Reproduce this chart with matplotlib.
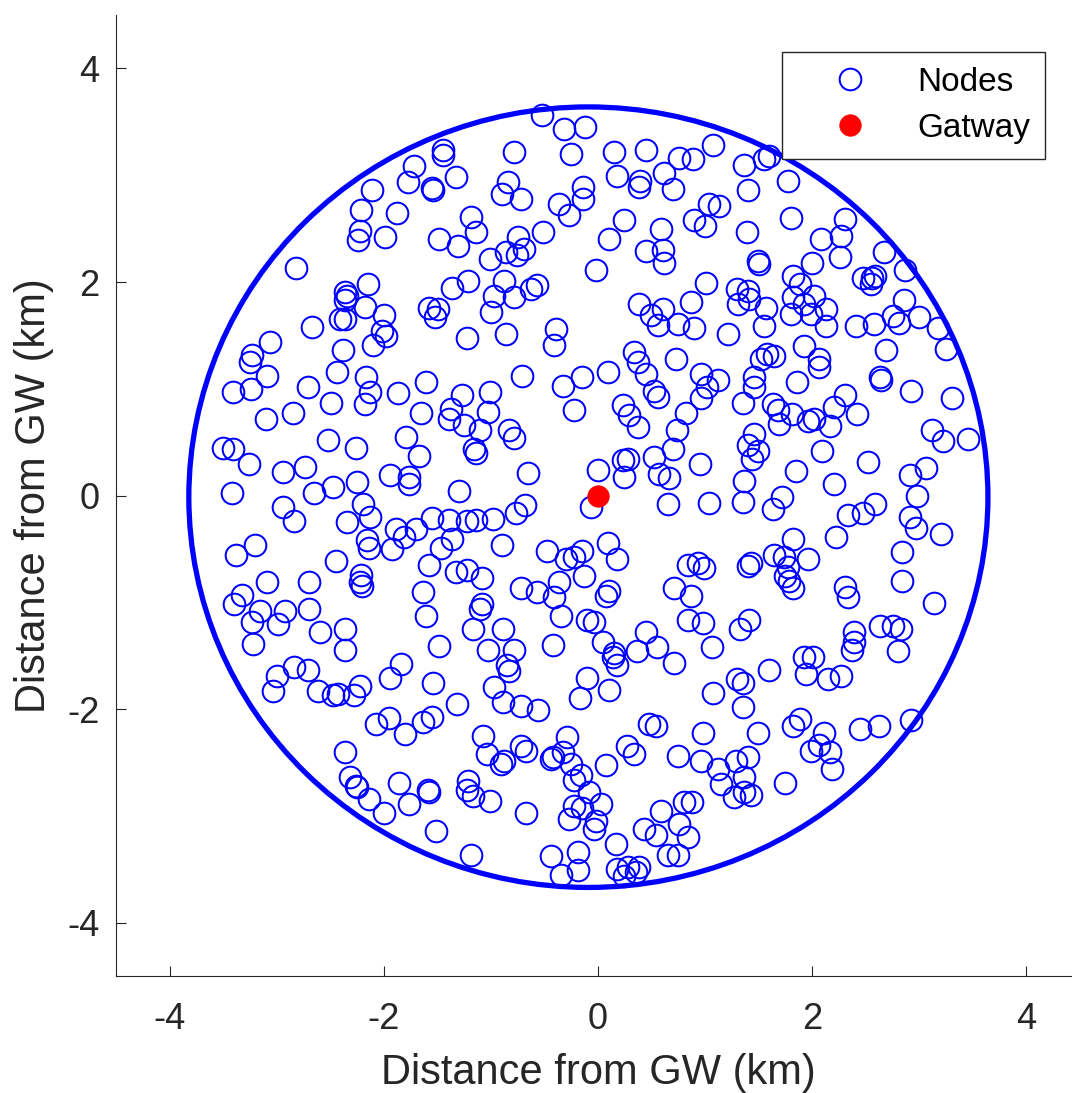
import matplotlib
matplotlib.use("Agg")
import matplotlib.pyplot as plt
import matplotlib.patches as patches

plt.rcParams["font.family"] = ["Liberation Sans", "DejaVu Sans"]
plt.rcParams["axes.unicode_minus"] = False

# Node positions (km from gateway)
node_x = [
    -1.45, -1.45, -1.72, -1.77, -1.55, -1.54, -1.33, -2.11, -2.21, -1.88, -2.22, -2.24, -1.99, -1.48, -1.31,
    -2.82, -2.15, -2.36, -2.34, -2.36, -2.18, -2.00, -2.41, -2.36, -2.67, -2.02, -1.98, -2.10, -3.06, -2.38,
    -1.36, -1.58, -1.49, -1.52, -3.23, -3.25,
    -0.52, -0.32, -0.12, -0.78, -0.25, 0.15, 0.45, 0.76, 0.89, 1.07,
    -0.84, -0.90, -0.72, -0.36, -0.27, -0.14, -0.14, 0.18, 0.39, 0.38, 0.62, 0.70, 1.04, 1.13, 0.90, 1.00,
    0.24, 0.10, 0.59, 0.45, 0.61, 0.62, -0.02,
    -1.19, -1.14, -1.01, -0.86, -0.75, -0.76, -0.69, -0.51, -1.21, -0.88, -0.97, -0.78, -1.00, -0.63, -0.57,
    -1.22, -0.86, -0.39, -0.41,
    0.38, 0.49, 0.61, 0.56, 0.75, 0.87, 0.90, 1.01, 1.21, 0.34, 0.73,
    1.36, 1.55, 1.60, 1.77, 1.40, 1.80, 1.39, 2.31, 2.27, 2.08, 2.26, 2.00, 2.67, 2.87, 1.49, 1.50, 2.47, 2.56,
    2.59, 2.55, 1.82, 1.89, 1.30, 1.40, 1.41, 1.31, 1.57, 1.55, 1.82, 1.92, 2.02, 2.13, 1.80, 1.99, 2.13, 2.86,
    2.75, 2.81, 3.00, 2.41, 2.58, 3.17, 3.25, 2.69, 1.92, 2.06, 1.58, 1.64, 1.52,
    -3.09, -3.41, -3.24, -2.71, -2.44, -2.17, -2.13, -2.18, -2.49, -1.87, -1.61, -1.65, -1.37, -1.39, -3.10,
    -2.85, -2.52, -2.26, -1.79, -1.67, -3.50, -3.41, -3.26, -2.94, -2.74, -2.65, -2.47, -2.25, -1.94, -1.76,
    -1.76, -3.42, -2.94, -2.84, -2.34, -2.19, -2.13, -2.16, -2.14, -1.89, -1.81, -1.92, -1.70, -1.55, -1.39,
    -1.47, -1.36, -3.20, -3.38, -2.45, -2.21, -2.22, -2.20, -1.58, -1.63, -1.61, -3.32, -3.40, -3.09, -2.70,
    -3.16, -3.23, -2.92, -2.99, -2.70, -2.60, -2.36,
    -0.71, -0.33, -0.15, 0.09, 0.37, 0.45, 0.52, 0.56, 0.96, 1.02, 1.12, 0.96,
    -1.27, -1.01, -1.03, -1.25, -1.10, -1.16, -1.14, -0.83, -0.78, -0.22, 0.23, 0.29, 0.37, 0.82, 0.74, 0.70,
    -0.65, 0.00, 0.23, 0.28, 0.24, 0.52, 0.57, 0.66, 0.95, 0.65, 1.04, -0.07,
    -1.30, -1.22, -1.14, -0.98, -0.77, -0.68, -0.90, -0.48, -0.30, -0.22, -0.15, -0.13, 0.09, 0.18, 0.84,
    0.93, 0.99, 0.71, 0.87,
    -1.22, -1.08, -1.33, -0.72, -0.57, -0.36, -0.41, 0.10, 0.07, -1.08, -1.10, -0.35, -0.10, -0.04, -1.17,
    -0.89, 0.45, 0.84, 0.98,
    1.46, 1.46, 1.35, 1.63, 1.68, 1.86, 2.06, 2.63, 2.64, 2.92, 3.30, 1.81, 1.69, 1.96, 2.02, 2.17, 2.20, 2.31,
    2.42, 3.12, 3.22, 3.45, 1.46, 1.40, 1.49, 1.44, 2.09, 2.52, 1.85, 2.91, 3.06, 2.98, 1.36, 1.35, 1.72, 1.63,
    2.20, 2.33, 2.47, 2.59, 2.91, 2.97, 3.20, 2.22, 1.82, 1.64, 1.74, 1.96, 1.40, 1.43, 1.77, 1.75, 1.78, 1.82,
    2.84, 2.84, 2.31, 2.33, 3.14, 1.41, 1.33, 2.39, 2.63, 2.75, 2.83,
    -3.22, -2.36, -1.48, -3.00, -3.03, -2.84, -2.71, -2.61, -2.47, -2.43, -2.28, -2.22, -1.94, -1.84, -1.54,
    -1.32, -2.07, -1.95, -1.80, -1.63, -1.55, -2.36, -2.32, -2.26, -2.25, -2.14, -2.00, -1.86, -1.76, -1.59,
    -1.58, -1.51,
    -1.03, -0.78, -0.85, -0.83, -0.97, -0.89, -0.72, -0.56, -0.42, 0.05, 0.15, 0.18, 0.14, 0.36, 0.55, 0.71,
    1.06, 1.07, -0.10, -0.17, 0.10, 0.98, 0.48, 0.54,
    -1.07, -1.04, -0.91, -0.88, -0.72, -0.67, -0.44, -0.42, -0.29, -0.33, -0.25, -0.16, -0.22, 0.07, 0.27,
    0.34, 0.75, 0.96, 1.12, 1.15,
    -1.21, -1.22, -1.17, -1.01, -0.67, -0.08, 0.03, -0.22, -0.15, -0.27, -0.02, -0.04, 0.59, 0.80, 0.88, 0.43,
    0.54, 0.76, 0.84, 0.17, 0.65, 0.75, -1.19, -0.44, -0.19, -0.35, -0.19, 0.18, 0.28, 0.38, 0.35, 0.24,
    2.39, 2.37, 2.80, 1.92, 2.01, 1.94, 2.15, 2.27, 1.60, 1.30, 1.35, 1.35, 1.89, 1.82, 2.11, 2.06, 1.99, 2.17,
    2.18, 1.49, 2.45, 2.62, 2.92, 1.40, 1.29, 1.36, 1.36, 1.43, 1.75, 1.27,
]
node_y = [
    3.24, 3.19, 3.09, 2.94, 2.88, 2.86, 2.98, 2.86, 2.67, 2.65, 2.48, 2.39, 2.42, 2.40, 2.34,
    2.13, 1.98, 1.91, 1.87, 1.83, 1.77, 1.69, 1.65, 1.65, 1.58, 1.54, 1.49, 1.41, 1.44, 1.36,
    1.94, 1.76, 1.75, 1.67, 1.32, 1.25,
    3.56, 3.43, 3.45, 3.22, 3.20, 3.22, 3.24, 3.16, 3.15, 3.28,
    2.94, 2.82, 2.78, 2.73, 2.63, 2.89, 2.78, 2.99, 2.95, 2.89, 3.02, 2.87, 2.73, 2.71, 2.58, 2.52,
    2.58, 2.40, 2.50, 2.29, 2.30, 2.18, 2.11,
    2.61, 2.47, 2.22, 2.28, 2.42, 2.25, 2.31, 2.47, 2.01, 2.01, 1.87, 1.86, 1.72, 1.93, 1.97,
    1.48, 1.51, 1.56, 1.41,
    1.79, 1.69, 1.75, 1.60, 1.61, 1.81, 1.57, 1.99, 1.51, 1.34, 1.28,
    3.10, 3.15, 3.18, 2.95, 2.86, 2.60, 2.47, 2.59, 2.43, 2.40, 2.23, 2.18, 2.28, 2.11, 2.20, 2.17, 2.04, 2.04,
    2.06, 1.98, 2.06, 1.98, 1.93, 1.92, 1.84, 1.79, 1.76, 1.59, 1.86, 1.79, 1.87, 1.75, 1.70, 1.70, 1.59, 1.83,
    1.68, 1.62, 1.67, 1.59, 1.61, 1.57, 1.37, 1.36, 1.40, 1.28, 1.33, 1.31, 1.28,
    1.12, 0.97, 1.00, 1.02, 1.16, 1.11, 0.97, 0.86, 0.87, 0.96, 1.06, 0.77, 0.81, 0.72, 0.72,
    0.77, 0.52, 0.45, 0.55, 0.37, 0.45, 0.44, 0.30, 0.22, 0.27, 0.02, 0.08, 0.13, 0.19, 0.17,
    0.11, 0.02, -0.11, -0.24, -0.25, -0.08, -0.20, -0.42, -0.49, -0.31, -0.39, -0.50, -0.31, -0.21, -0.23,
    -0.49, -0.41, -0.46, -0.56, -0.61, -0.74, -0.81, -0.85, -0.65, -0.90, -1.13, -0.93, -1.02, -0.81, -0.81,
    -1.08, -1.18, -1.08, -1.20, -1.06, -1.28, -1.25,
    1.12, 1.03, 1.11, 1.16, 1.25, 1.14, 0.98, 0.92, 1.14, 1.02, 1.08, 0.91,
    0.94, 0.97, 0.78, 0.66, 0.61, 0.44, 0.40, 0.61, 0.54, 0.80, 0.85, 0.75, 0.64, 0.77, 0.61, 0.44,
    0.21, 0.24, 0.33, 0.34, 0.17, 0.36, 0.20, 0.16, 0.30, -0.08, -0.07, -0.11,
    0.04, -0.24, -0.23, -0.22, -0.16, -0.09, -0.46, -0.52, -0.59, -0.58, -0.52, -0.75, -0.44, -0.59, -0.65,
    -0.63, -0.68, -0.87, -0.94,
    -0.70, -0.77, -0.72, -0.87, -0.90, -0.81, -0.95, -0.89, -0.94, -1.02, -1.06, -1.13, -1.17, -1.18, -1.25,
    -1.25, -1.28, -1.17, -1.19,
    1.11, 1.02, 0.87, 0.86, 0.80, 1.06, 1.20, 1.11, 1.08, 0.98, 0.91, 0.76, 0.67, 0.70, 0.72, 0.65, 0.83, 0.94,
    0.76, 0.61, 0.51, 0.53, 0.58, 0.47, 0.42, 0.34, 0.42, 0.31, 0.23, 0.19, 0.26, 0.00, 0.14, -0.06, -0.01, -0.13,
    0.11, -0.18, -0.16, -0.08, -0.20, -0.30, -0.36, -0.39, -0.41, -0.56, -0.58, -0.59, -0.66, -0.63, -0.67, -0.75, -0.80, -0.87,
    -0.53, -0.80, -0.86, -0.95, -1.01, -1.17, -1.25, -1.28, -1.22, -1.22, -1.25,
    -1.39, -1.45, -1.41, -1.69, -1.83, -1.61, -1.63, -1.83, -1.87, -1.86, -1.87, -1.78, -1.71, -1.58, -1.76,
    -1.95, -2.14, -2.08, -2.23, -2.12, -2.07, -2.40, -2.64, -2.72, -2.73, -2.84, -2.97, -2.69, -2.89, -2.76,
    -2.78, -3.14,
    -1.45, -1.45, -1.59, -1.64, -1.79, -1.93, -1.97, -2.01, -1.40, -1.37, -1.47, -1.59, -1.51, -1.46, -1.42, -1.57,
    -1.42, -1.85, -1.71, -1.90, -1.82, -2.22, -2.14, -2.16,
    -2.25, -2.42, -2.51, -2.49, -2.35, -2.39, -2.47, -2.45, -2.26, -2.40, -2.51, -2.62, -2.66, -2.52, -2.35,
    -2.42, -2.44, -2.49, -2.56, -2.70,
    -2.67, -2.76, -2.81, -2.86, -2.97, -2.78, -2.89, -2.91, -2.93, -3.03, -3.05, -3.12, -2.95, -2.87, -2.87, -3.12,
    -3.18, -3.08, -3.20, -3.26, -3.37, -3.37, -3.37, -3.38, -3.34, -3.55, -3.51, -3.50, -3.48, -3.48, -3.53, -3.56,
    -1.37, -1.45, -1.46, -1.51, -1.51, -1.67, -1.72, -1.69, -1.63, -1.72, -1.76, -1.98, -2.09, -2.16, -2.22, -2.34, -2.39, -2.40,
    -2.56, -2.22, -2.19, -2.16, -2.10, -2.45, -2.49, -2.64, -2.78, -2.80, -2.69, -2.82,
]

gateway_x = [0.0]
gateway_y = [0.0]

# coverage boundary drawn round the nodes (slightly wider than tall in the picture)
boundary_center = (-0.09, -0.015)
boundary_width = 7.46
boundary_height = 7.31

fig = plt.figure(figsize=(10.72, 10.93), dpi=100)
ax = fig.add_axes([0.1082, 0.1070, 0.8993, 0.8792])

ring = patches.Ellipse(boundary_center, boundary_width, boundary_height,
                       fill=False, edgecolor=(0, 0, 1), linewidth=3.8, zorder=2)
ax.add_patch(ring)

ax.plot(node_x, node_y, linestyle='none', marker='o', markersize=15.6,
        markerfacecolor='none', markeredgecolor=(0, 0, 1), markeredgewidth=1.45,
        label='Nodes', zorder=3)
ax.plot(gateway_x, gateway_y, linestyle='none', marker='o', markersize=15.5,
        markerfacecolor=(1, 0, 0), markeredgecolor=(1, 0, 0), markeredgewidth=0.5,
        label='Gatway', zorder=4)

ax.set_xlim(-4.5, 4.5)
ax.set_ylim(-4.5, 4.5)
ax.set_xticks([-4, -2, 0, 2, 4])
ax.set_yticks([-4, -2, 0, 2, 4])

dark = '#262626'
for side in ['top', 'right']:
    ax.spines[side].set_visible(False)
for side in ['left', 'bottom']:
    ax.spines[side].set_color(dark)
    ax.spines[side].set_linewidth(0.8)
ax.tick_params(direction='in', length=7, width=0.8, colors=dark, labelsize=26)
ax.tick_params(axis='x', pad=19)
ax.tick_params(axis='y', pad=12)

ax.set_xlabel('Distance from GW (km)', fontsize=30, color=dark, labelpad=11)
ax.set_ylabel('Distance from GW (km)', fontsize=30, color=dark, labelpad=9)

leg = ax.legend(loc='upper left', bbox_to_anchor=(782 / 1072, 1 - 52 / 1093),
                bbox_transform=fig.transFigure, borderaxespad=0, fontsize=24,
                handlelength=3.2, handletextpad=0.4, borderpad=0.45,
                labelspacing=0.44, fancybox=False, framealpha=1)
leg.get_frame().set_edgecolor(dark)
leg.get_frame().set_linewidth(1.0)

fig.savefig('out.png', dpi=100)
